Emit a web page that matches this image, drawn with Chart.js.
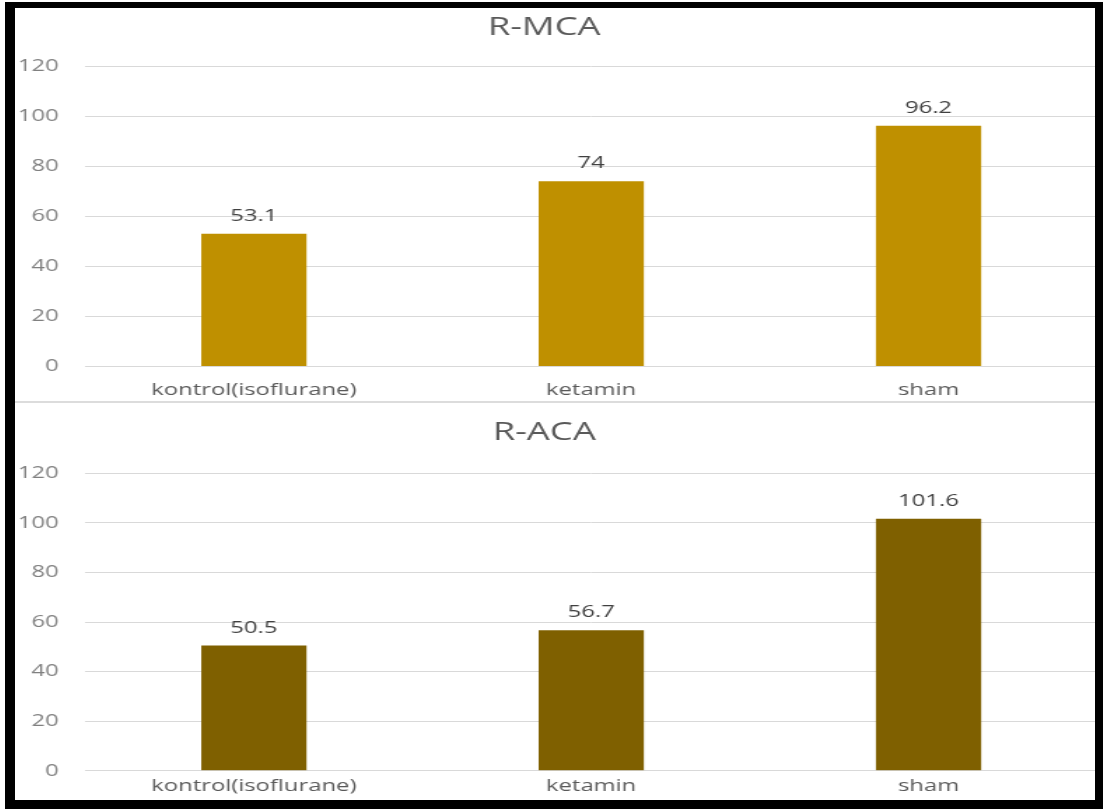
<!DOCTYPE html>
<html>
<head>
<meta charset="utf-8">
<script src="https://cdn.jsdelivr.net/npm/chart.js@4.4.1/dist/chart.umd.min.js"></script>
<style>
  html, body { margin: 0; padding: 0; background: #fff; }
  body { width: 1103px; height: 809px; position: relative; overflow: hidden; }
  .wrap { position: absolute; left: 15px; width: 777px; transform: scaleX(1.4); transform-origin: 0 0; }
  #topWrap { top: 8px; height: 394px; }
  #bottomWrap { top: 403px; height: 397px; }
  .sep { position: absolute; left: 15px; top: 401px; width: 1080px; height: 2px; background: #dcdcdc; }
  .frame { position: absolute; left: 5px; top: 2px; right: 0; bottom: 0; box-sizing: border-box;
           border-style: solid; border-color: #000; border-width: 6px 8px 9px 10px; pointer-events: none; }
</style>
</head>
<body>
<div class="wrap" id="topWrap"><canvas id="mcaChart"></canvas></div>
<div class="sep"></div>
<div class="wrap" id="bottomWrap"><canvas id="acaChart"></canvas></div>
<div class="frame"></div>
<script>
const groups = ['kontrol(isoflurane)', 'ketamin', 'sham'];
const mcaValues = [53.1, 74, 96.2];
const acaValues = [50.5, 56.7, 101.6];
const yTicks = [0, 20, 40, 60, 80, 100, 120];

const fontFamily = "'Open Sans', 'Liberation Sans', sans-serif";

// draws the number above each bar, like excel data labels
const valueLabels = {
    id: 'valueLabels',
    afterDatasetsDraw(chart) {
        const c = chart.ctx;
        c.save();
        c.font = `17px ${fontFamily}`;
        c.fillStyle = '#404040';
        c.textAlign = 'center';
        c.textBaseline = 'alphabetic';
        chart.data.datasets.forEach((ds, i) => {
            chart.getDatasetMeta(i).data.forEach((bar, j) => {
                c.fillText(String(ds.data[j]), bar.x, bar.y - 13);
            });
        });
        c.restore();
    }
};

function makeChart(id, title, values, color, titlePad, xPad, padBottom) {
    return new Chart(document.getElementById(id), {
        type: 'bar',
        data: {
            labels: groups,
            datasets: [{
                label: title,
                data: values,
                backgroundColor: color,
                borderWidth: 0,
                categoryPercentage: 1,
                barPercentage: 0.312
            }]
        },
        options: {
            responsive: true,
            maintainAspectRatio: false,
            animation: false,
            layout: {
                autoPadding: false,
                padding: { left: -17, right: 4, top: 0, bottom: padBottom }
            },
            plugins: {
                legend: { display: false },
                tooltip: { enabled: false },
                title: {
                    display: true,
                    text: title,
                    color: '#595959',
                    font: { family: fontFamily, size: 26, weight: 'normal' },
                    padding: titlePad
                }
            },
            scales: {
                x: {
                    grid: { display: false, drawTicks: false },
                    border: { display: true, color: '#d9d9d9', width: 1 },
                    ticks: {
                        color: '#595959',
                        padding: xPad,
                        maxRotation: 0,
                        font: { family: fontFamily, size: 17 }
                    }
                },
                y: {
                    min: 0,
                    max: 120,
                    afterBuildTicks: (axis) => { axis.ticks = yTicks.map(v => ({ value: v })); },
                    grid: { color: '#d9d9d9', lineWidth: 1, drawTicks: false },
                    border: { display: false },
                    ticks: {
                        color: '#808080',
                        padding: 19,
                        font: { family: fontFamily, size: 17 }
                    }
                }
            }
        },
        plugins: [valueLabels]
    });
}

const mcaChart = makeChart('mcaChart', 'R-MCA', mcaValues, '#BF9000', { top: 4, bottom: 23 }, 13, -11);
const acaChart = makeChart('acaChart', 'R-ACA', acaValues, '#7F6000', { top: 14, bottom: 25 }, 5, -7);
</script>
</body>
</html>
